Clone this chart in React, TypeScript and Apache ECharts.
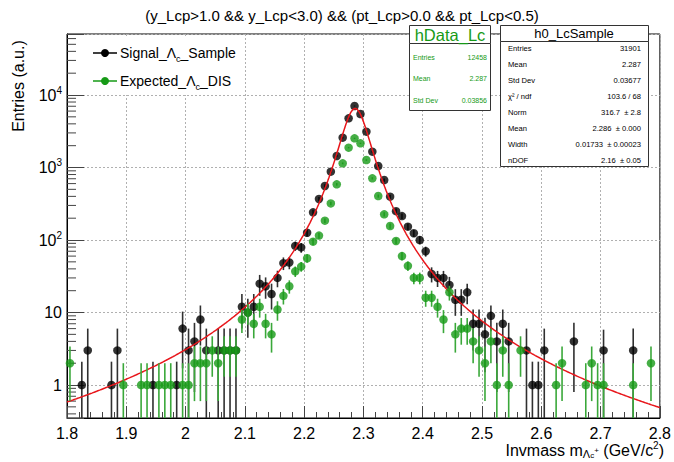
import React, { useEffect, useRef } from "react";
import * as echarts from "echarts";

// Histogram binning: 100 bins of 0.01 GeV/c^2 from 1.8 to 2.8
const binLow = 1.8;
const binWidth = 0.01;

// Signal_Λc_Sample (h0_LcSample) bin contents and errors
const signalCounts = [
  0, 0, 1, 3, 0, 0, 0, 1, 3, 0,
  0, 0, 0, 0, 1, 0, 0, 0, 1, 6,
  3, 4, 8, 3, 0, 3, 3, 3, 3, 12,
  10, 12, 25, 23, 18, 30, 48, 49, 83, 79,
  126, 241, 368, 556, 876, 1442, 2579, 4766, 7050, 5470,
  3120, 1653, 1049, 672, 396, 250, 214, 153, 124, 100,
  70, 34, 30, 30, 24, 15, 15, 19, 7, 7,
  5, 9, 4, 7, 4, 0, 0, 3, 1, 1,
  3, 0, 0, 0, 0, 4, 0, 0, 0, 0,
  3, 0, 0, 0, 0, 3, 0, 0, 0, 0,
];
const signalErrors = [
  0, 0, 1.1, 3, 0, 0, 0, 1.1, 3, 0,
  0, 0, 0, 0, 1.1, 0, 0, 0, 1.1, 4.3,
  3, 3.2, 4.5, 3, 0, 3, 3, 3, 3, 6,
  5.5, 6, 8, 7.5, 7, 7.7, 9.5, 9.5, 12, 12,
  14, 20, 24, 30, 38, 50, 68, 92, 112, 98,
  75, 54, 43, 34, 26, 21, 19, 16, 14, 13,
  11, 8, 7.5, 7.5, 7, 6, 6, 6, 4, 4,
  3.5, 3.5, 3.2, 4, 3.2, 0, 0, 3, 1.1, 1.1,
  3, 0, 0, 0, 0, 3.2, 0, 0, 0, 0,
  2.8, 0, 0, 0, 0, 3, 0, 0, 0, 0,
];

// Expected_Λc_DIS (hData_Lc) bin contents and errors
const expectedCounts = [
  2, 0, 0, 0, 0, 0, 0, 0, 0, 1,
  0, 0, 1, 1, 0, 1, 1, 1, 0, 1,
  1, 2, 2, 2, 3, 2, 3, 3, 3, 8,
  10, 7, 12, 7, 5, 11, 17, 23, 37, 43,
  56, 95, 115, 185, 320, 586, 1141, 1878, 2525, 2154,
  1268, 709, 404, 226, 156, 97, 60, 44, 30, 30,
  16, 16, 12, 8, 19, 5, 6, 6, 4, 3,
  2, 4, 1, 3, 1, 0, 3, 0, 0, 0,
  0, 0, 1, 2, 0, 0, 0, 1, 2, 1,
  1, 0, 0, 0, 0, 1, 0, 0, 2, 0,
];
const expectedErrors = [
  1.4, 0, 0, 0, 0, 0, 0, 0, 0, 1,
  0, 0, 1, 1, 0, 1, 1, 1, 0, 1,
  1, 1.4, 1.4, 1.4, 1.7, 1.4, 1.7, 1.7, 1.7, 2.8,
  3.2, 2.6, 3.5, 2.6, 2.2, 3.3, 4.1, 4.8, 6.1, 6.6,
  7.5, 9.7, 10.7, 13.6, 17.9, 24.2, 33.8, 43.3, 50.2, 46.4,
  35.6, 26.6, 20.1, 15, 12.5, 9.8, 7.7, 6.6, 5.5, 5.5,
  4, 4, 3.5, 2.8, 4.4, 2.2, 2.4, 2.4, 2, 1.7,
  1.4, 2, 1, 1.7, 1, 0, 1.7, 0, 0, 0,
  0, 0, 1, 1.4, 0, 0, 0, 1, 1.4, 1,
  1, 0, 0, 0, 0, 1, 0, 0, 1.4, 0,
];

// Student-t fit to h0_LcSample
const fitNorm = 316.7;
const fitMean = 2.286;
const fitWidth = 0.01733;
const fitNdof = 2.16;

// Axis ranges
const xMin = 1.8;
const xMax = 2.8;
const yMin = 0.351;
const yMax = 69400;
const yDecadeLabels = ["1", "10", "{b|10}{p|2}", "{b|10}{p|3}", "{b|10}{p|4}"];

const statsSignal = [
  ["Entries", "31901"],
  ["Mean", "2.287"],
  ["Std Dev", "0.03677"],
  ["χ² / ndf", "103.6 / 68"],
  ["Norm", "316.7  ± 2.8"],
  ["Mean", "2.286  ± 0.000"],
  ["Width", "0.01733  ± 0.00023"],
  ["nDOF", "2.16  ± 0.05"],
];
const statsExpected = [
  ["Entries", "12458"],
  ["Mean", "2.287"],
  ["Std Dev", "0.03856"],
];

const FONT = "'Liberation Sans', Arial, Helvetica, sans-serif";
const GREEN = "#169a16";
const GREEN_BAR = "#3aa83a";

function gammaFn(z: number): number {
  const p = [
    0.99999999999980993, 676.5203681218851, -1259.1392167224028,
    771.32342877765313, -176.61503916999185, 12.507343278686905,
    -0.13857109526572012, 9.9843695780195716e-6, 1.5056327351493116e-7,
  ];
  if (z < 0.5) return Math.PI / (Math.sin(Math.PI * z) * gammaFn(1 - z));
  z -= 1;
  let x = p[0];
  for (let i = 1; i < 9; i++) x += p[i] / (z + i);
  const t = z + 7.5;
  return Math.sqrt(2 * Math.PI) * Math.pow(t, z + 0.5) * Math.exp(-t) * x;
}

function fitFunction(x: number): number {
  const t = (x - fitMean) / fitWidth;
  const nu = fitNdof;
  const c = gammaFn((nu + 1) / 2) / (Math.sqrt(nu * Math.PI) * gammaFn(nu / 2));
  return (fitNorm / fitWidth) * c * Math.pow(1 + (t * t) / nu, -(nu + 1) / 2);
}

function histPoints(counts: number[], errors: number[]) {
  const out: number[][] = [];
  counts.forEach((v, i) => {
    if (v > 0) out.push([binLow + binWidth * (i + 0.5), v, errors[i]]);
  });
  return out;
}

function errorBarRenderer(color: string) {
  return (params: any, api: any) => {
    const x = api.value(0);
    const v = api.value(1);
    const e = api.value(2);
    const cs = params.coordSys;
    const top = api.coord([x, v + e]);
    const lo = v - e;
    const bottomY = lo > yMin ? api.coord([x, lo])[1] : cs.y + cs.height;
    return {
      type: "line",
      shape: { x1: top[0], y1: Math.max(top[1], cs.y), x2: top[0], y2: bottomY },
      style: { stroke: color, lineWidth: 1.6 },
    };
  };
}

export default function App() {
  const ref = useRef<HTMLDivElement>(null);

  useEffect(() => {
    if (!ref.current) return;
    const chart = echarts.init(ref.current, null, { renderer: "svg" });

    const sigPts = histPoints(signalCounts, signalErrors);
    const expPts = histPoints(expectedCounts, expectedErrors);

    const fitPts: number[][] = [];
    const nSamples = 500;
    for (let i = 0; i <= nSamples; i++) {
      const x = xMin + ((xMax - xMin) * i) / nSamples;
      fitPts.push([x, fitFunction(x)]);
    }

    // minor tick positions of the log axis (2..9 × 10^k)
    const minorTicks: number[][] = [];
    for (let k = -1; k <= 4; k++) {
      for (let m = 2; m <= 9; m++) {
        const v = m * Math.pow(10, k);
        if (v > yMin && v < yMax) minorTicks.push([xMin, v]);
      }
    }

    const graphics: any[] = [];
    // title
    graphics.push({
      type: "text", x: 342, y: 15, z: 100,
      style: {
        text: "(y_Lcp>1.0 && y_Lcp<3.0) && (pt_Lcp>0.0 && pt_Lcp<0.5)",
        font: `15px ${FONT}`, fill: "#000", align: "center", verticalAlign: "middle",
      },
    });
    // y axis title
    graphics.push({
      type: "text", x: 18, y: 86, rotation: Math.PI / 2, z: 100,
      style: {
        text: "Entries (a.u.)", font: `16px ${FONT}`, fill: "#000",
        align: "center", verticalAlign: "middle",
      },
    });
    // x axis title
    graphics.push({
      type: "text", x: 664, y: 450, z: 100,
      style: {
        text: "{n|Invmass m}{s|Λ}{ss|c}{sp|+}{n| (GeV/c}{p|2}{n|)}",
        align: "right", verticalAlign: "middle", fill: "#000",
        rich: {
          n: { fontSize: 16, fontFamily: FONT, lineHeight: 16, verticalAlign: "middle" },
          s: { fontSize: 11, fontFamily: FONT, lineHeight: 18, verticalAlign: "bottom" },
          ss: { fontSize: 8, fontFamily: FONT, lineHeight: 19, verticalAlign: "bottom" },
          sp: { fontSize: 8, fontFamily: FONT, lineHeight: 16, verticalAlign: "middle" },
          p: { fontSize: 10, fontFamily: FONT, lineHeight: 16, verticalAlign: "top" },
        },
      },
    });

    // legend
    graphics.push({
      type: "rect", z: 90, shape: { x: 80, y: 37, width: 143, height: 58 },
      style: { fill: "#fff", stroke: null },
    });
    const legendRows = [
      { y: 53, color: "#000", text: "{n|Signal_Λ}{s|c}{n|_Sample}" },
      { y: 81, color: GREEN, text: "{n|Expected_Λ}{s|c}{n|_DIS}" },
    ];
    legendRows.forEach((r) => {
      graphics.push({
        type: "line", z: 101, shape: { x1: 93, y1: r.y, x2: 117, y2: r.y },
        style: { stroke: r.color, lineWidth: 1.5 },
      });
      graphics.push({
        type: "circle", z: 102, shape: { cx: 105, cy: r.y, r: 4 },
        style: { fill: r.color },
      });
      graphics.push({
        type: "text", x: 120, y: r.y, z: 101,
        style: {
          text: r.text, fill: "#000", verticalAlign: "middle", align: "left",
          rich: {
            n: { fontSize: 14, fontFamily: FONT, lineHeight: 18, verticalAlign: "middle" },
            s: { fontSize: 9, fontFamily: FONT, lineHeight: 20, verticalAlign: "bottom" },
          },
        },
      });
    });

    // stats box: hData_Lc
    graphics.push({
      type: "rect", z: 110, shape: { x: 409.5, y: 43.5, width: 81, height: 67 },
      style: { fill: "#fff", stroke: "#333", lineWidth: 1 },
    });
    graphics.push({
      type: "rect", z: 111, shape: { x: 409.5, y: 25.5, width: 81, height: 18 },
      style: { fill: "#fff", stroke: "#333", lineWidth: 1 },
    });
    graphics.push({
      type: "text", x: 450, y: 35, z: 112,
      style: {
        text: "hData_Lc", font: `16.5px ${FONT}`, fill: GREEN,
        align: "center", verticalAlign: "middle",
      },
    });
    statsExpected.forEach((row, i) => {
      const y = 57.3 + i * 21.5;
      graphics.push({
        type: "text", x: 413, y, z: 112,
        style: { text: row[0], font: `7px ${FONT}`, fill: GREEN, align: "left", verticalAlign: "middle" },
      });
      graphics.push({
        type: "text", x: 487, y, z: 112,
        style: { text: row[1], font: `7px ${FONT}`, fill: GREEN, align: "right", verticalAlign: "middle" },
      });
    });

    // stats box: h0_LcSample
    graphics.push({
      type: "rect", z: 110, shape: { x: 500.5, y: 41.5, width: 148, height: 125 },
      style: { fill: "#fff", stroke: "#333", lineWidth: 1 },
    });
    graphics.push({
      type: "rect", z: 111, shape: { x: 500.5, y: 25.5, width: 148, height: 16 },
      style: { fill: "#fff", stroke: "#333", lineWidth: 1 },
    });
    graphics.push({
      type: "text", x: 574, y: 33.5, z: 112,
      style: {
        text: "h0_LcSample", font: `13px ${FONT}`, fill: "#000",
        align: "center", verticalAlign: "middle",
      },
    });
    statsSignal.forEach((row, i) => {
      const y = 48.7 + i * 15.9;
      graphics.push({
        type: "text", x: 508, y, z: 112,
        style: { text: row[0], font: `7.6px ${FONT}`, fill: "#000", align: "left", verticalAlign: "middle" },
      });
      graphics.push({
        type: "text", x: 641, y, z: 112,
        style: { text: row[1], font: `7.6px ${FONT}`, fill: "#000", align: "right", verticalAlign: "middle" },
      });
    });

    chart.setOption({
      animation: false,
      textStyle: { fontFamily: FONT },
      grid: {
        left: 67, right: 13, top: 34, bottom: 44,
        show: true, borderColor: "#000", borderWidth: 1, backgroundColor: "#fff",
      },
      xAxis: {
        type: "value", min: xMin, max: xMax, interval: 0.1,
        axisLine: { show: true, lineStyle: { color: "#000", width: 1 } },
        axisTick: { show: true, inside: true, length: 12, lineStyle: { color: "#444" } },
        minorTick: { show: true, splitNumber: 5, length: 6, lineStyle: { color: "#444" } },
        axisLabel: { fontSize: 16, color: "#000", margin: 7, fontFamily: FONT },
        splitLine: { show: true, lineStyle: { color: "#b0b0b0", type: [2, 2], width: 1 } },
      },
      yAxis: {
        type: "log", logBase: 10, min: yMin, max: yMax, splitNumber: 5,
        axisLine: { show: true, lineStyle: { color: "#000", width: 1 } },
        axisTick: { show: true, inside: true, length: 17, lineStyle: { color: "#444" } },
        axisLabel: {
          fontSize: 16, color: "#000", margin: 5, fontFamily: FONT,
          formatter: (val: number) => {
            const lg = Math.log10(val);
            const e = Math.round(lg);
            if (Math.abs(lg - e) > 1e-6 || e < 0 || e >= yDecadeLabels.length) return "";
            return yDecadeLabels[e];
          },
          rich: {
            b: { fontSize: 16, fontFamily: FONT, lineHeight: 20, verticalAlign: "middle" },
            p: { fontSize: 10, fontFamily: FONT, lineHeight: 20, verticalAlign: "top" },
          },
        },
        splitLine: { show: true, lineStyle: { color: "#b0b0b0", type: [2, 2], width: 1 } },
      },
      graphic: graphics,
      series: [
        {
          type: "custom", name: "yMinorTicks", data: minorTicks, z: 3, silent: true,
          renderItem: (params: any, api: any) => {
            const p = api.coord([api.value(0), api.value(1)]);
            return {
              type: "line",
              shape: { x1: p[0], y1: p[1], x2: p[0] + 9, y2: p[1] },
              style: { stroke: "#444", lineWidth: 1 },
            };
          },
        },
        {
          type: "custom", name: "signalErr", data: sigPts, z: 4, clip: true,
          renderItem: errorBarRenderer("#303030"),
        },
        {
          type: "scatter", name: "Signal_Λc_Sample", data: sigPts.map((p) => [p[0], p[1]]),
          symbol: "circle", symbolSize: 8.5, z: 5,
          itemStyle: { color: "#000" },
        },
        {
          type: "line", name: "fit", data: fitPts, showSymbol: false, z: 6,
          lineStyle: { color: "#e8161b", width: 1.5 },
        },
        {
          type: "custom", name: "expectedErr", data: expPts, z: 7, clip: true,
          renderItem: errorBarRenderer(GREEN_BAR),
        },
        {
          type: "scatter", name: "Expected_Λc_DIS", data: expPts.map((p) => [p[0], p[1]]),
          symbol: "circle", symbolSize: 8.5, z: 8,
          itemStyle: { color: GREEN },
        },
      ],
    });

    return () => chart.dispose();
  }, []);

  return (
    <div
      ref={ref}
      style={{ position: "absolute", left: 0, top: 0, width: 674, height: 462, background: "#fff" }}
    />
  );
}
